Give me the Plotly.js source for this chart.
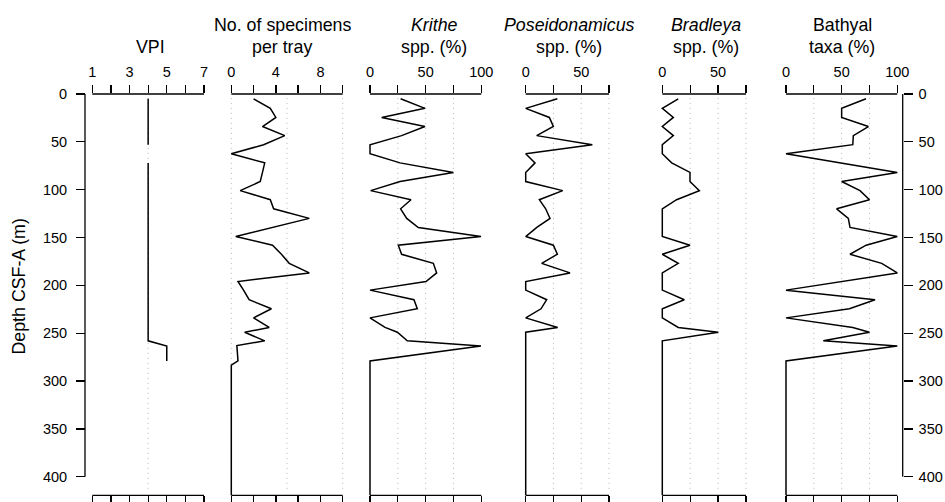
<!DOCTYPE html>
<html><head><meta charset="utf-8">
<script src="https://cdn.plot.ly/plotly-3.0.1.min.js"></script>
<style>html,body{margin:0;padding:0;background:#fff}#chart{width:945px;height:502px}</style>
</head><body><div id="chart"></div>
<script>
// ---- data (depth in m CSF-A) ----
const depth = [5, 15, 24.5, 34, 43.5, 53, 62.5, 72, 82, 91.5, 101, 110.5, 120, 130, 139.5, 149, 158, 167.5, 177, 187, 196, 205, 215, 224.5, 234, 244, 249, 258, 263.5, 279, 420];
const vpi = [4,4,4,4,4,4,null,4,4,4,4,4,4,4,4,4,4,4,4,4,4,4,4,4,4,4,4,4,5,5,null];
const specDepth = [5, 15, 24.5, 34, 43.5, 53, 62.5, 72, 82, 91.5, 101, 110.5, 120, 130, 149, 158, 167.5, 177, 187, 196, 205, 215, 224.5, 234, 244, 249, 258, 263, 279, 283.5, 420];
const specimens = [2.0, 3.5, 4.0, 2.8, 4.8, 2.9, 0, 3.0, 2.8, 2.6, 0.8, 3.5, 3.8, 7.0, 0.4, 3.7, 4.5, 5.2, 7.0, 0.6, 1.1, 1.6, 3.6, 2.0, 3.4, 1.2, 3.0, 0.5, 0.6, 0, 0];
const krithe = [27.5, 49.4, 10.5, 49.4, 28.4, 0, 0, 27, 74.9, 27, 0.6, 36.8, 27.5, 33, 43.4, 99.7, 25.4, 28.4, 56.9, 59.9, 50.3, 0, 39.5, 42.5, 0, 13.5, 24.6, 33.5, 99.7, 0, 0];
const poseidonamicus = [28.5, 0, 21.3, 24.9, 9.9, 60, 0, 8.4, 0, 0, 33.3, 12.3, 18, 21.9, 10, 0, 24.9, 28.5, 14.4, 39.9, 0, 0, 18.9, 13.8, 0, 28.8, 0, 0, 0, 0, 0];
const bradleya = [14.3, 0, 9.9, 0, 9.9, 0, 0, 8.4, 24.8, 24.8, 33.2, 12.8, 0, 0, 0, 0, 24.8, 0, 14.3, 0, 0, 0, 19.7, 0, 0, 14.3, 50.2, 0, 0, 0, 0];
const bathyal = [71.9, 50, 50, 74, 60.5, 60, 0, 50, 100, 50, 66.5, 75, 45.5, 56, 57.5, 100, 72, 57.5, 86, 100, 50, 0, 80, 57, 0, 60, 75, 33.5, 100, 0, 0];
const depthTicks = [0, 50, 100, 150, 200, 250, 300, 350, 400];

// panel definitions: tick values, labelled ticks, grid values, title lines
const panels = [
  {title: ['VPI'], ticks: [1,2,3,4,5,6,7], labels: [1,3,5,7], grid: [4]},
  {title: ['No. of specimens', 'per tray'], ticks: [0,2,4,6,8,10], labels: [0,4,8], grid: [0,5,10]},
  {title: ['<i>Krithe</i>', 'spp. (%)'], ticks: [0,25,50,75,100], labels: [0,50,100], grid: [25,50,75]},
  {title: ['<i>Poseidonamicus</i>', 'spp. (%)'], ticks: [0,25,50,75], labels: [0,50], grid: [25,50,75]},
  {title: ['<i>Bradleya</i>', 'spp. (%)'], ticks: [0,25,50,75], labels: [0,50], grid: [25,50,75]},
  {title: ['Bathyal', 'taxa (%)'], ticks: [0,25,50,75,100], labels: [0,50,100], grid: [25,50,75]}
];
// pixel geometry (style/layout only)
const W = 945, H = 502;
const pix = [[92.3,204.0],[231.3,342.7],[370.0,481.3],[525.7,609.0],[662.3,746.0],[786.0,897.3]];
const titleX = [150, 282, 434, 569, 706, 842];
const yTopPx = 94, yBotPx = 495.3;
const depthMax = (yBotPx - yTopPx) / ((476.7 - 94) / 400);
const yDom = [1 - yBotPx / H, 1 - yTopPx / H];
const FONT = 'Liberation Sans, Arial, Helvetica, sans-serif';
const TFS = 17.8, TKFS = 14.5;

const series = [
  {x: vpi, y: depth},
  {x: specimens, y: specDepth},
  {x: krithe, y: depth},
  {x: poseidonamicus, y: depth},
  {x: bradleya, y: depth},
  {x: bathyal, y: depth}
];

const traces = [];
const layout = {
  width: W, height: H, autosize: false,
  margin: {l: 0, r: 0, t: 0, b: 0},
  paper_bgcolor: '#fff', plot_bgcolor: 'rgba(0,0,0,0)',
  showlegend: false,
  font: {family: FONT, color: '#000', size: TKFS},
  shapes: [], annotations: [],
  yaxis: {
    domain: yDom, range: [depthMax, 0], anchor: 'free', position: 85 / W, side: 'left',
    tickvals: depthTicks, ticktext: depthTicks.map(String),
    ticks: 'outside', ticklen: 9, tickwidth: 1.3, tickcolor: '#000',
    showline: false, showgrid: false, zeroline: false,
    tickfont: {family: FONT, size: TKFS, color: '#000'}, ticklabelstandoff: 6
  },
  yaxis2: {
    domain: yDom, range: [depthMax, 0], anchor: 'free', position: 902.7 / W, side: 'right', overlaying: 'y',
    tickvals: depthTicks, ticktext: depthTicks.map(String),
    ticks: 'outside', ticklen: 9, tickwidth: 1.3, tickcolor: '#000',
    showline: false, showgrid: false, zeroline: false,
    tickfont: {family: FONT, size: TKFS, color: '#000'}, ticklabelstandoff: 3
  }
};

const pad = 3;
panels.forEach((p, i) => {
  const ax = i === 0 ? 'x' : 'x' + (i + 1);
  const axKey = i === 0 ? 'xaxis' : 'xaxis' + (i + 1);
  const v0 = p.ticks[0], v1 = p.ticks[p.ticks.length - 1];
  const [p0, p1] = pix[i];
  const k = (v1 - v0) / (p1 - p0);
  layout[axKey] = {
    domain: [(p0 - pad) / W, (p1 + pad) / W],
    range: [v0 - pad * k, v1 + pad * k],
    anchor: 'y', side: 'top',
    tickvals: p.ticks,
    ticktext: p.ticks.map(t => p.labels.includes(t) ? String(t) : ''),
    ticks: 'outside', ticklen: 8.5, tickwidth: 1.3, tickcolor: '#000',
    mirror: 'ticks', showline: false, showgrid: false, zeroline: false,
    tickfont: {family: FONT, size: TKFS, color: '#000'}, ticklabelstandoff: 2
  };
  traces.push({
    type: 'scatter', mode: 'lines', x: series[i].x, y: series[i].y,
    xaxis: ax, yaxis: 'y', connectgaps: false,
    line: {color: '#000', width: 1.5}, hoverinfo: 'skip'
  });
  [yDom[1], yDom[0]].forEach(yy => layout.shapes.push({
    type: 'line', xref: ax, yref: 'paper', x0: v0, x1: v1, y0: yy, y1: yy,
    line: {color: '#000', width: 1.3}
  }));
  p.grid.forEach(g => layout.shapes.push({
    type: 'line', xref: ax, yref: 'y', x0: g, x1: g, y0: 4, y1: depthMax - 5,
    line: {color: '#b4b4b4', width: 1, dash: '1px,4px'}, layer: 'below'
  }));
  const lineY = p.title.length === 1 ? [46.7] : [25, 46.7];
  p.title.forEach((t, j) => layout.annotations.push({
    xref: 'paper', yref: 'paper', x: titleX[i] / W, y: 1 - lineY[j] / H,
    xanchor: 'center', yanchor: 'middle', showarrow: false, text: t,
    font: {family: FONT, size: TFS, color: '#000'}
  }));
});
[85, 902.7].forEach(px => layout.shapes.push({
  type: 'line', xref: 'paper', yref: 'y', x0: px / W, x1: px / W, y0: 0, y1: 400,
  line: {color: '#000', width: 1.3}
}));
traces.push({type: 'scatter', mode: 'lines', x: [null], y: [null], xaxis: 'x6', yaxis: 'y2', hoverinfo: 'skip'});
layout.annotations.push({
  xref: 'paper', yref: 'paper', x: 18 / W, y: 1 - 286.5 / H, xanchor: 'center', yanchor: 'middle',
  showarrow: false, textangle: -90, text: 'Depth CSF-A (m)',
  font: {family: FONT, size: TFS, color: '#000'}
});

Plotly.newPlot('chart', traces, layout, {staticPlot: true, displayModeBar: false});
</script></body></html>
